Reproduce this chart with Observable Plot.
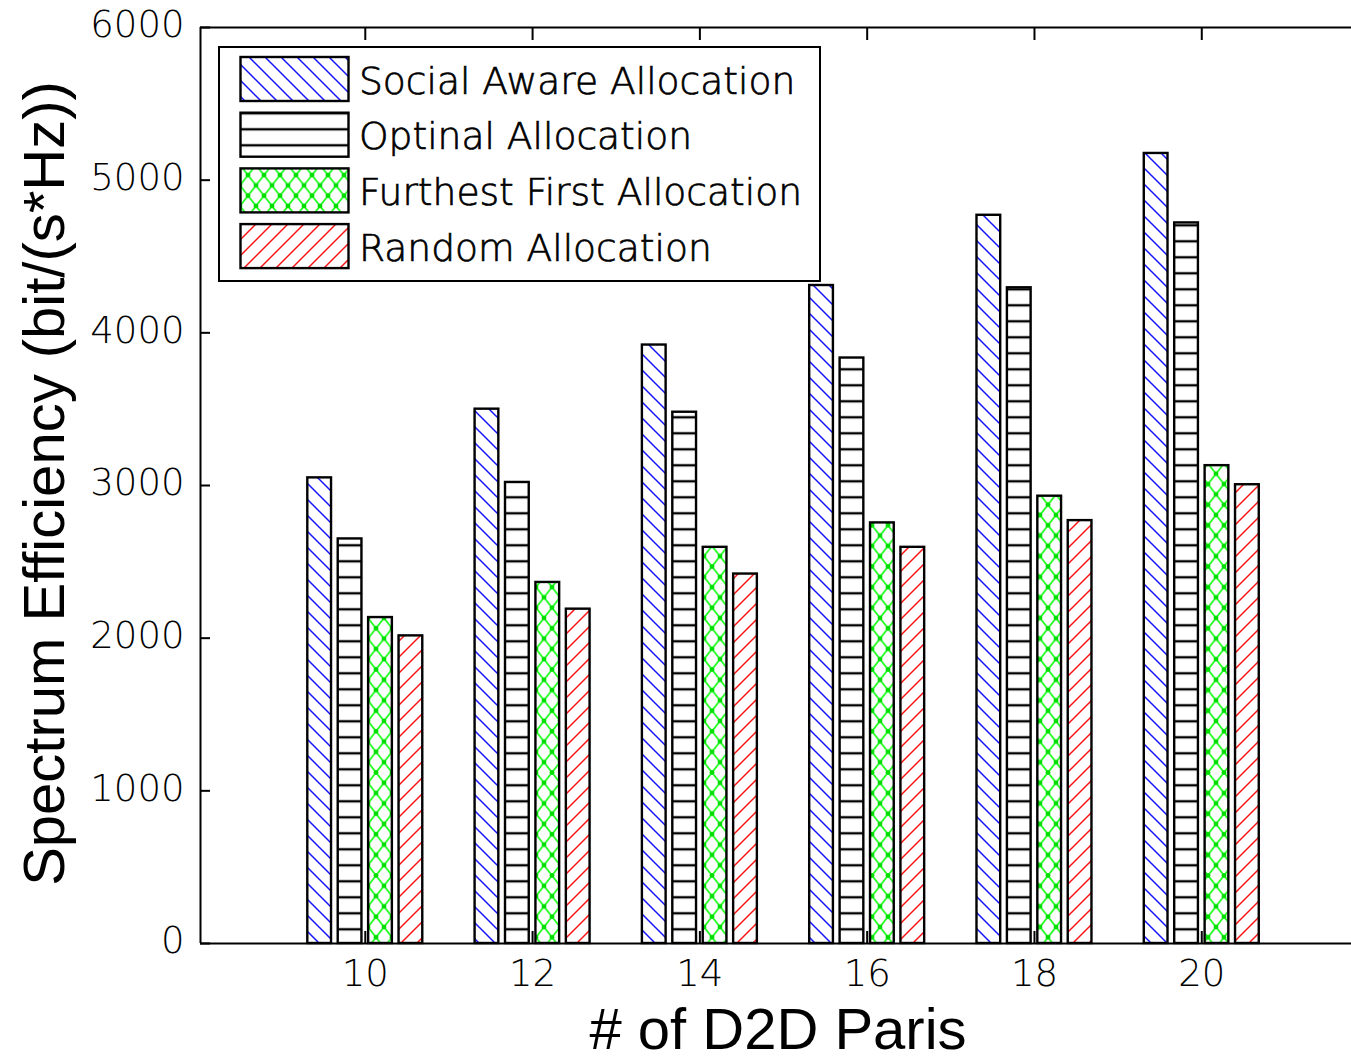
<!DOCTYPE html>
<html><head><meta charset="utf-8">
<script src="https://cdn.jsdelivr.net/npm/d3@7"></script>
<script src="https://cdn.jsdelivr.net/npm/@observablehq/plot@0.6"></script>
<style>
html,body{margin:0;padding:0;background:#fff;}
#chart{width:1351px;height:1060px;overflow:hidden;}
</style></head><body><div id="chart"></div>
<script>
// ---- data ----
const groups = [10, 12, 14, 16, 18, 20];
const seriesNames = ["Social Aware Allocation", "Optinal Allocation", "Furthest First Allocation", "Random Allocation"];
const socialAware   = [3050, 3500, 3920, 4310, 4770, 5175];
const optimal       = [2650, 3020, 3480, 3835, 4295, 4720];
const furthestFirst = [2135, 2365, 2595, 2755, 2930, 3130];
const randomAlloc   = [2015, 2190, 2420, 2595, 2770, 3005];
const yTicks = [0, 1000, 2000, 3000, 4000, 5000, 6000];
const xTicks = [10, 12, 14, 16, 18, 20];
const xLabel = "# of D2D Paris";
const yLabel = "Spectrum Efficiency (bit/(s*Hz))";

const seriesValues = [socialAware, optimal, furthestFirst, randomAlloc];
const patternIds = ["pat-social", "pat-optimal", "pat-furthest", "pat-random"];

// grouped bar geometry (MATLAB-like)
const nSeries = seriesValues.length;
const groupSpacing = 2;
const groupWidth = groupSpacing * Math.min(0.8, nSeries / (nSeries + 1.5));
const pitch = groupWidth / nSeries;
const barHalf = pitch * 0.78 / 2;
const xDomain = [8.03, 21.79];

const bars = seriesValues.map((vals, s) =>
  Plot.rect(groups.map((g, i) => ({g, v: vals[i]})), {
    x1: d => d.g + (s - (nSeries - 1) / 2) * pitch - barHalf,
    x2: d => d.g + (s - (nSeries - 1) / 2) * pitch + barHalf,
    y1: 0,
    y2: d => d.v,
    fill: `url(#${patternIds[s]})`,
    stroke: "black",
    strokeWidth: 2.4
  })
);

const tickFont = {fontSize: 37, fontWeight: 300, fill: "black", stroke: "black", strokeWidth: 0.7};

const chart = Plot.plot({
  width: 1351, height: 1060,
  marginLeft: 200, marginRight: 0, marginTop: 27, marginBottom: 117,
  x: {domain: xDomain},
  y: {domain: [0, 6000]},
  style: {fontFamily: "DejaVu Sans", color: "black", background: "white", overflow: "visible"},
  marks: [
    Plot.axisX({anchor: "bottom", ticks: xTicks, tickSize: -12, strokeWidth: 2, text: null, label: null}),
    ...bars,
    Plot.ruleY([0], {strokeWidth: 2}),
    Plot.ruleY([6000], {strokeWidth: 2}),
    Plot.ruleX([xDomain[0]], {strokeWidth: 2}),
    Plot.axisX({anchor: "top", ticks: xTicks, tickSize: -12, strokeWidth: 2, text: null, label: null}),
    Plot.axisY({anchor: "left", ticks: yTicks, tickSize: -10, strokeWidth: 2, text: null, label: null}),
    Plot.axisY({anchor: "left", ticks: yTicks, tickSize: 0, tickPadding: 16, ...tickFont, dy: -2, tickFormat: d => String(d), label: null}),
    Plot.axisX({anchor: "bottom", ticks: xTicks, tickSize: 0, tickPadding: 16, ...tickFont, tickFormat: d => String(d), label: null}),
    Plot.text([xLabel], {text: d => d, frameAnchor: "bottom", dy: 105, dx: 2, fontSize: 58, fontFamily: "Liberation Sans", fill: "black"}),
    Plot.text([yLabel], {text: d => d, frameAnchor: "left", textAnchor: "middle", rotate: -90, dx: -155, dy: -2, fontSize: 58, fontFamily: "Liberation Sans", fill: "black"})
  ]
});

const svgNS = "http://www.w3.org/2000/svg";
const defs = document.createElementNS(svgNS, "defs");
defs.innerHTML = `
<pattern id="pat-social" patternUnits="userSpaceOnUse" width="16" height="16">
  <rect width="16" height="16" fill="white"/>
  <path d="M-2,-2L18,18M-2,14L2,18M14,-2L18,2" stroke="#1414ff" stroke-width="1.5" fill="none"/>
</pattern>
<pattern id="pat-optimal" patternUnits="userSpaceOnUse" width="16" height="16" y="9.3">
  <rect width="16" height="16" fill="white"/>
  <line x1="0" x2="16" y1="8" y2="8" stroke="black" stroke-width="2.4"/>
</pattern>
<pattern id="pat-furthest" patternUnits="userSpaceOnUse" width="16" height="20.6">
  <rect width="16" height="20.6" fill="white"/>
  <path d="M0,0L16,20.6M16,0L0,20.6" stroke="#22ff22" stroke-width="1.8" fill="none"/>
  <circle cx="0" cy="0" r="2.4" fill="#00dd00"/>
  <circle cx="16" cy="0" r="2.4" fill="#00dd00"/>
  <circle cx="0" cy="20.6" r="2.4" fill="#00dd00"/>
  <circle cx="16" cy="20.6" r="2.4" fill="#00dd00"/>
  <circle cx="8" cy="10.3" r="2.4" fill="#00dd00"/>
</pattern>
<pattern id="pat-random" patternUnits="userSpaceOnUse" width="16" height="16">
  <rect width="16" height="16" fill="white"/>
  <path d="M-2,18L18,-2M-2,2L2,-2M14,18L18,14" stroke="#ff1414" stroke-width="1.5" fill="none"/>
</pattern>`;
chart.insertBefore(defs, chart.firstChild);

// legend (inside plot area, top-left)
const lg = document.createElementNS(svgNS, "g");
let html = `<rect x="219" y="47" width="601" height="234" fill="white" stroke="black" stroke-width="2"/>`;
seriesNames.forEach((name, i) => {
  const top = 57 + 55.7 * i;
  html += `<rect x="240.5" y="${top}" width="108" height="44" fill="url(#${patternIds[i]})" stroke="black" stroke-width="2.4"/>`;
  html += `<text x="359" y="${top + 22 + 14.5}" text-anchor="start" font-family="DejaVu Sans" font-weight="300" font-size="37.6" fill="black" stroke="black" stroke-width="0.7">${name}</text>`;
});
lg.innerHTML = html;
chart.appendChild(lg);

document.getElementById("chart").appendChild(chart);
</script>
</body></html>
